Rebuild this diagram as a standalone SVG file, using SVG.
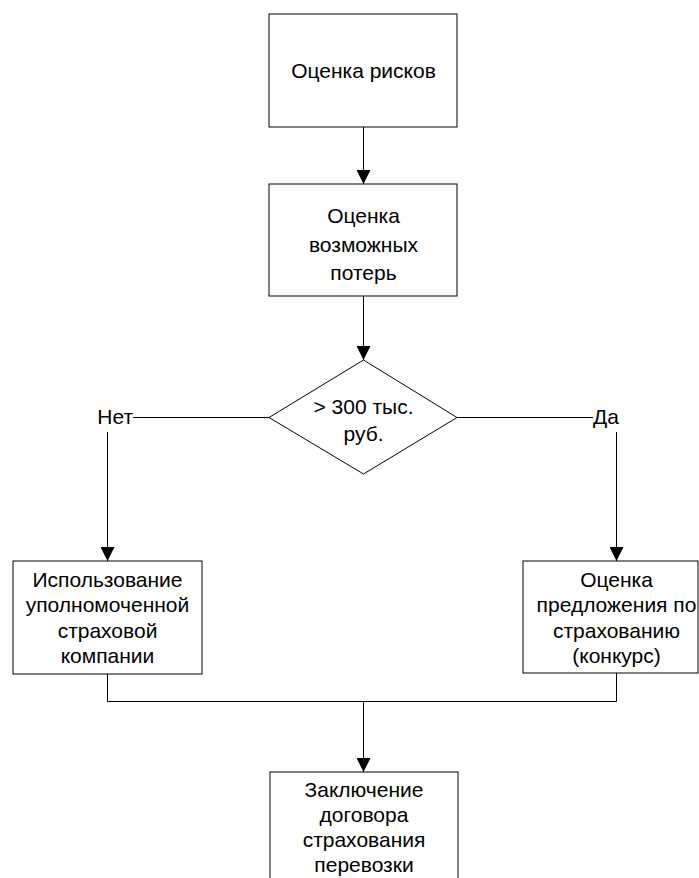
<svg xmlns="http://www.w3.org/2000/svg" width="699" height="878" viewBox="0 0 699 878">
  <style>
    .box { fill: #ffffff; stroke: #000000; stroke-width: 1; }
    .dec { fill: #ffffff; stroke: #000000; stroke-width: 1; }
    .wire { fill: none; stroke: #000000; stroke-width: 1; }
    .lbl { font-family: "Liberation Sans", Arial, sans-serif; font-size: 21px; fill: #000000; }
    .c { text-anchor: middle; }
  </style>
  <defs>
    <marker id="head" markerUnits="userSpaceOnUse" markerWidth="14" markerHeight="14" refX="14" refY="7" orient="auto" viewBox="0 0 14 14">
      <path d="M0,0 L14,7 L0,14 Z" fill="#000000"/>
    </marker>
  </defs>
  <rect width="699" height="878" fill="#ffffff"/>

  <!-- flow lines -->
  <g id="connectors">
    <path class="wire" d="M363.5 127 V184" marker-end="url(#head)"/>
    <path class="wire" d="M363.5 296 V360" marker-end="url(#head)"/>
    <path class="wire" d="M133 417.5 H269"/>
    <path class="wire" d="M457 417.5 H593"/>
    <path class="wire" d="M107.5 432 V561" marker-end="url(#head)"/>
    <path class="wire" d="M616.5 432 V561" marker-end="url(#head)"/>
    <path class="wire" d="M107.5 674 V701.5 H616.5 V673"/>
    <path class="wire" d="M363.5 701.5 V772" marker-end="url(#head)"/>
    <text class="lbl" x="133" y="423.5" text-anchor="end">Нет</text>
    <text class="lbl" x="593" y="423.5">Да</text>
  </g>

  <g id="risk-assessment">
    <rect class="box" x="269" y="14" width="188" height="113"/>
    <text class="lbl c" x="363.5" y="78">Оценка рисков</text>
  </g>

  <g id="loss-assessment">
    <rect class="box" x="269" y="184" width="188" height="112"/>
    <text class="lbl c" x="363.5" y="223">Оценка</text>
    <text class="lbl c" x="363.5" y="252">возможных</text>
    <text class="lbl c" x="363.5" y="280">потерь</text>
  </g>

  <g id="threshold">
    <polygon class="dec" points="363.5,360 457,417.5 363.5,474 269,417.5"/>
    <text class="lbl c" x="363.5" y="414">&gt; 300 тыс.</text>
    <text class="lbl c" x="363.5" y="441">руб.</text>
  </g>

  <g id="authorized-insurer">
    <rect class="box" x="13" y="561" width="189" height="113"/>
    <text class="lbl c" x="107.5" y="587">Использование</text>
    <text class="lbl c" x="107.5" y="612">уполномоченной</text>
    <text class="lbl c" x="107.5" y="637.5">страховой</text>
    <text class="lbl c" x="107.5" y="663">компании</text>
  </g>

  <g id="tender">
    <rect class="box" x="523" y="561" width="175" height="112"/>
    <text class="lbl c" x="616.5" y="587">Оценка</text>
    <text class="lbl c" x="616.5" y="612">предложения по</text>
    <text class="lbl c" x="616.5" y="637.5">страхованию</text>
    <text class="lbl c" x="616.5" y="663">(конкурс)</text>
  </g>

  <g id="contract">
    <rect class="box" x="270" y="772" width="188" height="120"/>
    <text class="lbl c" x="364" y="797">Заключение</text>
    <text class="lbl c" x="364" y="822">договора</text>
    <text class="lbl c" x="364" y="847">страхования</text>
    <text class="lbl c" x="364" y="872">перевозки</text>
  </g>
</svg>
